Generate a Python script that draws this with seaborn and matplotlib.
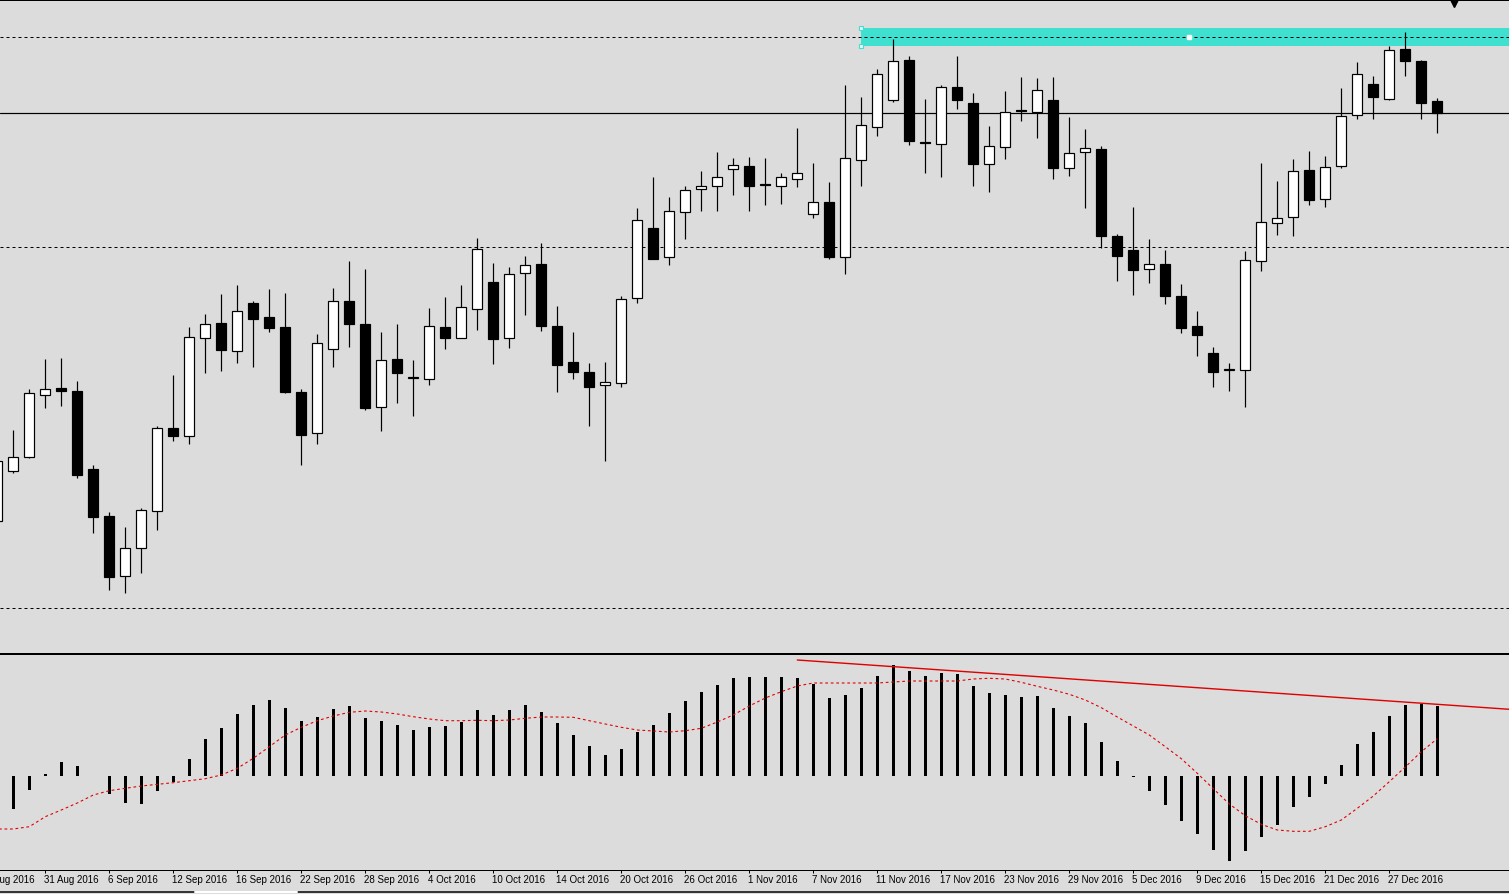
import numpy as np
import matplotlib
matplotlib.use("Agg")
import matplotlib.pyplot as plt
from matplotlib.patches import Rectangle
from matplotlib.lines import Line2D
from matplotlib.transforms import blended_transform_factory
import seaborn as sns

# ---------------- data (daily candles, 26 Aug 2016 .. 30 Dec 2016) ----------------
opens = [128.7, 179.3, 193.3, 255.3, 261.7, 259.0, 180.7, 133.7, 73.7, 101.7,
         138.7, 221.7, 213.7, 312.3, 326.7, 299.3, 346.7, 332.7, 322.7, 257.7,
         216.7, 300.7, 349.0, 325.7, 242.7, 290.7, 271.7, 271.3, 323.0, 311.7,
         340.7, 368.0, 312.3, 376.7, 386.0, 324.0, 288.0, 278.0, 264.7, 266.7,
         351.7, 421.7, 392.7, 437.7, 460.7, 463.7, 480.7, 484.0, 465.7, 463.7,
         471.3, 435.7, 448.0, 392.7, 490.3, 523.3, 549.7, 589.7, 508.3, 506.3,
         562.7, 546.7, 486.3, 502.7, 540.0, 538.3, 550.0, 481.7, 497.7, 501.0,
         414.0, 400.0, 380.7, 386.0, 354.0, 324.0, 297.0, 280.3, 279.7, 388.7,
         426.7, 432.7, 480.0, 450.7, 483.7, 534.7, 566.0, 551.3, 601.0, 589.0,
         549.0]
highs = [192.0, 220.0, 261.0, 290.7, 292.0, 269.0, 185.0, 138.0, 122.7, 141.7,
         223.7, 275.0, 322.7, 336.0, 356.0, 365.0, 349.0, 361.0, 357.0, 260.7,
         315.7, 362.0, 389.0, 381.0, 317.7, 326.0, 290.0, 342.0, 353.0, 365.0,
         412.0, 387.0, 383.0, 394.0, 407.0, 344.0, 318.0, 287.0, 288.0, 354.0,
         442.0, 473.0, 453.0, 464.0, 479.0, 498.0, 492.0, 493.0, 492.0, 477.0,
         522.0, 487.0, 468.0, 565.0, 553.0, 581.0, 611.0, 594.0, 551.0, 565.0,
         594.0, 557.0, 524.0, 559.0, 573.0, 572.0, 573.0, 533.0, 521.0, 504.0,
         415.7, 443.0, 411.0, 400.0, 366.0, 339.0, 303.0, 287.0, 399.0, 487.0,
         469.0, 491.0, 499.0, 494.0, 562.0, 588.0, 574.0, 604.0, 618.0, 590.0,
         552.0]
lows = [126.0, 177.3, 192.0, 242.3, 244.0, 172.3, 117.3, 60.3, 57.3, 77.3,
        120.3, 209.3, 206.3, 277.3, 279.3, 287.3, 283.3, 318.3, 257.0, 185.3,
        206.3, 283.3, 303.3, 240.3, 219.3, 247.3, 234.3, 265.3, 301.0, 311.7,
        320.0, 286.3, 302.3, 335.3, 319.3, 258.3, 271.3, 224.3, 189.3, 263.0,
        347.0, 391.3, 385.0, 411.0, 439.3, 439.3, 455.3, 439.3, 445.3, 446.3,
        463.3, 432.5, 391.3, 376.3, 464.3, 514.3, 548.3, 505.3, 477.3, 473.3,
        541.3, 464.3, 458.3, 491.3, 529.3, 512.3, 471.3, 474.3, 442.3, 402.3,
        369.3, 355.3, 367.3, 346.3, 317.3, 294.3, 263.3, 259.3, 243.3, 379.3,
        415.0, 414.3, 445.3, 443.3, 482.3, 531.3, 531.3, 550.3, 574.3, 531.3,
        517.3]
closes = [189.0, 192.7, 256.7, 260.7, 259.3, 175.3, 133.3, 72.7, 101.7, 139.7,
          221.7, 214.3, 312.7, 325.7, 300.3, 338.7, 331.3, 322.3, 258.3, 215.3,
          306.7, 348.7, 326.3, 242.3, 289.7, 277.3, 271.7, 324.0, 312.0, 342.7,
          400.7, 311.3, 375.7, 384.7, 324.3, 285.3, 278.3, 263.3, 267.7, 350.7,
          429.7, 391.3, 438.7, 459.7, 463.7, 472.7, 484.7, 464.3, 464.7, 472.7,
          476.7, 448.0, 393.3, 491.7, 524.7, 575.7, 588.7, 509.3, 507.3, 562.7,
          549.7, 486.3, 504.0, 537.7, 538.7, 559.7, 482.3, 496.7, 501.7, 414.3,
          394.3, 380.3, 385.7, 354.3, 322.3, 315.3, 278.3, 280.3, 389.7, 427.7,
          431.7, 478.7, 450.3, 482.7, 533.7, 575.7, 553.3, 599.7, 589.3, 547.3,
          536.7]

macd_hist = [-33, -14, 2, 14, 10, 0.5, -18, -27, -28, -15,
             -6, 17, 37, 48, 62, 71, 76, 68, 55, 59,
             67, 70, 58, 55, 51, 46, 49, 50, 54, 66,
             61, 66, 71, 64, 53, 41, 30, 21, 27, 44,
             51, 63, 75, 84, 91, 98, 99, 99, 99, 98,
             92, 78, 81, 88, 100, 111, 105, 100, 103, 102,
             90, 83, 81, 79, 80, 68, 60, 53, 34, 15,
             -1, -15, -29, -45, -58, -74, -85, -75, -61, -49,
             -31, -21, -8, 11, 32, 44, 60, 71, 72, 70]
signal = [-53, -53, -50.7, -40.7, -34, -27, -19, -14.7, -12.3, -10, -8.3,
          -6.7, -4.7, -2.7, 1, 7.7, 17.7, 29.3, 41, 48.7, 55.3,
          60, 63.7, 65, 64, 62, 59.3, 57, 55.3, 55.3, 55.7,
          55.3, 56, 57.7, 59, 59, 58.7, 55.3, 52, 48.7, 46,
          45, 44, 45.3, 47.7, 54, 61, 70, 78, 84.3, 90,
          93, 93, 93, 93, 93, 94, 95, 95, 95, 95,
          97, 97.7, 97, 93.7, 89.7, 86, 81.7, 76, 68.3, 59,
          50, 41, 29.3, 17.3, 2.7, -12.7, -28, -39.7, -48.3, -54,
          -55.3, -55.3, -50.7, -44, -32.3, -20, -5.7, 9, 24.3, 37.3]

tick_labels = ["25 Aug 2016", "31 Aug 2016", "6 Sep 2016", "12 Sep 2016", "16 Sep 2016",
               "22 Sep 2016", "28 Sep 2016", "4 Oct 2016", "10 Oct 2016", "14 Oct 2016",
               "20 Oct 2016", "26 Oct 2016", "1 Nov 2016", "7 Nov 2016", "11 Nov 2016",
               "17 Nov 2016", "23 Nov 2016", "29 Nov 2016", "5 Dec 2016", "9 Dec 2016",
               "15 Dec 2016", "21 Dec 2016", "27 Dec 2016"]

level_dashed = [613, 403, 42]
level_solid = [537]
zone_low, zone_high = 604, 622
trend_x = [49.0, 93.5]
trend_y = [116.0, 66.7]

# ---------------- style ----------------
BG = "#DCDCDC"
sns.set_style("white", rc={"axes.facecolor": BG, "figure.facecolor": BG})
plt.rcParams["font.family"] = ["Liberation Sans", "DejaVu Sans"]
PX = 0.72  # points per pixel at 100 dpi

W, H = 1509, 894
fig = plt.figure(figsize=(W / 100, H / 100), dpi=100, facecolor=BG)

def fy(p):
    return (H - p) / H

ax1 = fig.add_axes([0, fy(652.7), 1, 652.7 / H])
ax2 = fig.add_axes([0, fy(870), 1, (870 - 654.3) / H])
for ax in (ax1, ax2):
    ax.set_facecolor(BG)
    ax.set_xlim((0 - 13.3) / 16, (W - 13.3) / 16)
    for s in ("left", "right"):
        ax.spines[s].set_visible(False)
    for s in ("top", "bottom"):
        ax.spines[s].set_color("black")
        ax.spines[s].set_linewidth(PX)
    ax.set_yticks([])

ax1.spines["top"].set_linewidth(2 * PX)
ax1.set_ylim(650 - 652.7, 650)
ax1.set_xticks([])
ax2.set_ylim(776 - 870, 776 - 654.3)

# ---------------- main panel ----------------
o = np.array(opens); h = np.array(highs); l = np.array(lows); c = np.array(closes)
x = np.arange(-1, len(o) - 1)
bull = c >= o
bottoms = np.minimum(o, c)
heights = np.maximum(np.abs(c - o), 0.9)
colors = np.where(bull, "white", "black")

ax1.add_patch(Rectangle((52.98, zone_low), 60, zone_high - zone_low,
                        facecolor="#40E0D0", edgecolor="none", zorder=1))
for lv in level_dashed:
    ax1.axhline(lv, color="black", lw=PX, linestyle=(0, (3, 3)), zorder=2)
for lv in level_solid:
    ax1.axhline(lv, color="black", lw=PX * 1.2, zorder=2)

ax1.vlines(x, l, h, color="black", lw=PX * 1.2, zorder=3)
ax1.bar(x, heights, bottom=bottoms, width=0.63, color=colors,
        edgecolor="black", linewidth=PX * 1.2, zorder=4)

# zone handles
ax1.plot([52.98, 52.98], [zone_high, zone_low], linestyle="none", marker="s",
         markersize=3.2, markerfacecolor="#E8FFFD", markeredgecolor="#40E0D0",
         markeredgewidth=0.8, zorder=5)
ax1.plot([73.48], [613], linestyle="none", marker="s", markersize=2.2,
         markerfacecolor="white", markeredgecolor="white", zorder=5)
ax1.plot([90.05], [647.5], linestyle="none", marker="v", markersize=6,
         color="black", clip_on=False, zorder=6)

# ---------------- MACD panel ----------------
xh = np.arange(len(macd_hist))
ax2.bar(xh, macd_hist, width=0.2, color="black", linewidth=0,
        antialiased=False, zorder=3)
xs = np.arange(-1, len(signal) - 1)
sns.lineplot(x=xs, y=signal, ax=ax2, color="#E00000", linewidth=PX * 1.1,
             linestyle=(0, (2.5, 2.5)), zorder=4)
sns.lineplot(x=trend_x, y=trend_y, ax=ax2, color="#E00000", linewidth=PX * 1.4,
             zorder=5)
ax2.set_xlim((0 - 13.3) / 16, (W - 13.3) / 16)
ax2.set_ylim(776 - 870, 776 - 654.3)
ax2.set_xlabel("")
ax2.set_ylabel("")

tick_pos = [-2 + 4 * i for i in range(len(tick_labels))]
ax2.set_xticks([t for t in tick_pos if t >= -0.8])
ax2.set_xticklabels([])
ax2.tick_params(axis="x", direction="out", length=3 * PX, width=PX, color="black",
                bottom=True)
tr = blended_transform_factory(ax2.transData, ax2.transAxes)
for t, lab in zip(tick_pos, tick_labels):
    ax2.text(t - 0.07, (870 - 883.3) / (870 - 654.3), lab, transform=tr,
             ha="left", va="baseline", fontsize=7, color="black", clip_on=False)

# bottom frame line
fig.add_artist(Line2D([0, 1], [fy(892.3), fy(892.3)], color="black", lw=PX * 1.5))
fig.add_artist(Line2D([195 / W, 297 / W], [fy(892.3), fy(892.3)], color="white", lw=PX * 2))

fig.savefig("out.png", dpi=100, facecolor=BG)
